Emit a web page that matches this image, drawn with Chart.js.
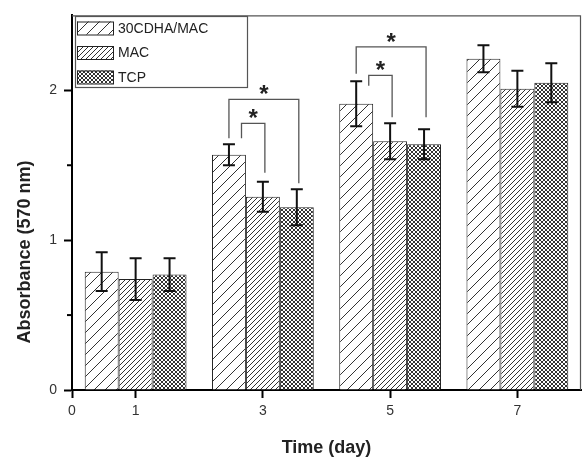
<!DOCTYPE html>
<html>
<head>
<meta charset="utf-8">
<script src="https://cdn.jsdelivr.net/npm/chart.js@4.4.0/dist/chart.umd.min.js"></script>
<style>
  html, body { margin: 0; padding: 0; background: #fff; }
  #wrap { width: 582px; height: 461px; position: relative; }
</style>
</head>
<body>
<div id="wrap"><canvas id="absChart"></canvas></div>
<script>
// Data
const days = [1, 3, 5, 7];
const xTickValues = [0, 1, 3, 5, 7];
const yMajorTicks = [0, 1, 2];
const yMinorTicks = [0.5, 1.5];
const seriesNames = ['30CDHA/MAC', 'MAC', 'TCP'];

const cdhaMac = [0.79, 1.57, 1.91, 2.21];
const cdhaMacErr = [0.13, 0.07, 0.15, 0.09];
const mac = [0.74, 1.29, 1.66, 2.01];
const macErr = [0.14, 0.10, 0.12, 0.12];
const tcp = [0.77, 1.22, 1.64, 2.05];
const tcpErr = [0.11, 0.12, 0.10, 0.13];

// significance brackets: day index, series from/to, bracket level, leg ends
const sigDay = [1, 1, 2, 2];
const sigFrom = [0, 0, 0, 0];
const sigTo = [2, 1, 2, 1];
const sigTop = [1.94, 1.78, 2.29, 2.10];
const sigLeftEnd = [1.68, 1.68, 2.11, 2.03];
const sigRightEnd = [1.38, 1.45, 1.82, 1.82];

const FONT = "'Liberation Sans', Arial, sans-serif";

const canvas = document.getElementById('absChart');
const ctx = canvas.getContext('2d');

// hatch fills
const makeHatch = (size, cross) => {
    const tile = document.createElement('canvas');
    tile.width = size;
    tile.height = size;
    const p = tile.getContext('2d');
    p.fillStyle = '#fff';
    p.fillRect(0, 0, size, size);
    p.strokeStyle = '#333';
    p.lineWidth = 1;
    p.beginPath();
    p.moveTo(-1, size + 1); p.lineTo(size + 1, -1);
    p.moveTo(-1, 1); p.lineTo(1, -1);
    p.moveTo(size - 1, size + 1); p.lineTo(size + 1, size - 1);
    if (cross) {
        p.moveTo(-1, -1); p.lineTo(size + 1, size + 1);
        p.moveTo(size - 1, -1); p.lineTo(size + 1, 1);
        p.moveTo(-1, size - 1); p.lineTo(1, size + 1);
    }
    p.stroke();
    return ctx.createPattern(tile, 'repeat');
};
const fills = [makeHatch(11, false), makeHatch(5, false), makeHatch(4, true)];

const toPoints = values => days.map((d, i) => ({ x: d, y: values[i] }));

const extras = {
    id: 'extras',
    afterDatasetsDraw(chart) {
        const c = chart.ctx;
        const area = chart.chartArea;
        const ys = chart.scales.y;
        c.save();

        // top and right frame
        c.strokeStyle = '#555';
        c.lineWidth = 1.2;
        c.beginPath();
        c.moveTo(area.left, area.top + 0.5);
        c.lineTo(area.right - 0.5, area.top + 0.5);
        c.lineTo(area.right - 0.5, area.bottom);
        c.stroke();

        // minor y ticks
        c.strokeStyle = '#000';
        c.lineWidth = 2;
        yMinorTicks.forEach(v => {
            const y = ys.getPixelForValue(v);
            c.beginPath();
            c.moveTo(area.left - 5, y);
            c.lineTo(area.left, y);
            c.stroke();
        });

        // error bars
        c.strokeStyle = '#111';
        c.lineWidth = 2;
        chart.data.datasets.forEach((ds, di) => {
            const meta = chart.getDatasetMeta(di);
            meta.data.forEach((bar, i) => {
                const v = ds.data[i].y;
                const e = ds.err[i];
                const yt = ys.getPixelForValue(v + e);
                const yb = ys.getPixelForValue(v - e);
                c.beginPath();
                c.moveTo(bar.x, yt); c.lineTo(bar.x, yb);
                c.moveTo(bar.x - 6, yt); c.lineTo(bar.x + 6, yt);
                c.moveTo(bar.x - 6, yb); c.lineTo(bar.x + 6, yb);
                c.stroke();
            });
        });

        // significance brackets
        sigDay.forEach((d, k) => {
            const a = chart.getDatasetMeta(sigFrom[k]).data[d];
            const b = chart.getDatasetMeta(sigTo[k]).data[d];
            const shift = sigTo[k] - sigFrom[k] === 1 ? a.width * 0.37 : 0;
            const xl = a.x + shift;
            const xr = b.x + 2;
            const yTop = ys.getPixelForValue(sigTop[k]);
            c.strokeStyle = '#555';
            c.lineWidth = 1.3;
            c.beginPath();
            c.moveTo(xl, ys.getPixelForValue(sigLeftEnd[k]));
            c.lineTo(xl, yTop);
            c.lineTo(xr, yTop);
            c.lineTo(xr, ys.getPixelForValue(sigRightEnd[k]));
            c.stroke();
            c.fillStyle = '#222';
            c.font = `bold 24px ${FONT}`;
            c.textAlign = 'center';
            c.textBaseline = 'alphabetic';
            c.fillText('*', (xl + xr) / 2, yTop + 3);
        });

        // legend box
        const lx = 75, ly = 16, lw = 172, lh = 71;
        c.fillStyle = '#fff';
        c.fillRect(lx, ly, lw, lh);
        c.strokeStyle = '#555';
        c.lineWidth = 1.2;
        c.strokeRect(lx + 0.5, ly + 0.5, lw, lh);
        chart.data.datasets.forEach((ds, di) => {
            const cy = 28 + di * 24.5;
            c.fillStyle = ds.backgroundColor;
            c.fillRect(77, cy - 6.5, 36, 13);
            c.strokeStyle = '#222';
            c.lineWidth = 1;
            c.strokeRect(77.5, cy - 6, 36, 13);
            c.fillStyle = '#222';
            c.font = `14px ${FONT}`;
            c.textAlign = 'left';
            c.textBaseline = 'middle';
            c.fillText(ds.label, 118, cy + 1);
        });

        // y axis title
        c.translate(25, 252);
        c.rotate(-Math.PI / 2);
        c.fillStyle = '#222';
        c.font = `bold 18px ${FONT}`;
        c.textAlign = 'center';
        c.textBaseline = 'middle';
        c.fillText('Absorbance (570 nm)', 0, 0);
        c.restore();
    }
};

new Chart(ctx, {
    type: 'bar',
    data: {
        datasets: [
            { label: seriesNames[0], data: toPoints(cdhaMac), err: cdhaMacErr, backgroundColor: fills[0] },
            { label: seriesNames[1], data: toPoints(mac), err: macErr, backgroundColor: fills[1] },
            { label: seriesNames[2], data: toPoints(tcp), err: tcpErr, backgroundColor: fills[2] }
        ]
    },
    options: {
        responsive: true,
        maintainAspectRatio: false,
        animation: false,
        layout: { padding: { top: 10, right: 1 } },
        datasets: {
            // the bar ruler measures against the 0-1 tick gap (half the day spacing),
            // so 1.6 here gives a group 0.8 of the 2-day spacing
            bar: { categoryPercentage: 1.6, barPercentage: 1.0, borderColor: '#222', borderWidth: 1 }
        },
        plugins: {
            legend: { display: false },
            tooltip: { enabled: false }
        },
        scales: {
            x: {
                type: 'linear',
                min: 0,
                max: 8,
                offset: false,
                afterBuildTicks: s => { s.ticks = xTickValues.map(v => ({ value: v })); },
                afterFit: s => { s.height = 71; },
                grid: { offset: false, drawOnChartArea: false, tickLength: 8, tickWidth: 2, tickColor: '#000' },
                border: { color: '#000', width: 2 },
                ticks: { font: { family: FONT, size: 14 }, color: '#333', padding: 5, maxRotation: 0, autoSkip: false },
                title: {
                    display: true,
                    text: 'Time (day)',
                    color: '#222',
                    font: { family: FONT, size: 18, weight: 'bold' },
                    padding: { top: 0, bottom: 2 }
                }
            },
            y: {
                min: 0,
                max: 2.5,
                afterBuildTicks: s => { s.ticks = yMajorTicks.map(v => ({ value: v })); },
                afterFit: s => { s.width = 72; },
                grid: { drawOnChartArea: false, tickLength: 8, tickWidth: 2, tickColor: '#000' },
                border: { color: '#000', width: 2 },
                ticks: { font: { family: FONT, size: 14 }, color: '#333', padding: 7 }
            }
        }
    },
    plugins: [extras]
});
</script>
</body>
</html>
